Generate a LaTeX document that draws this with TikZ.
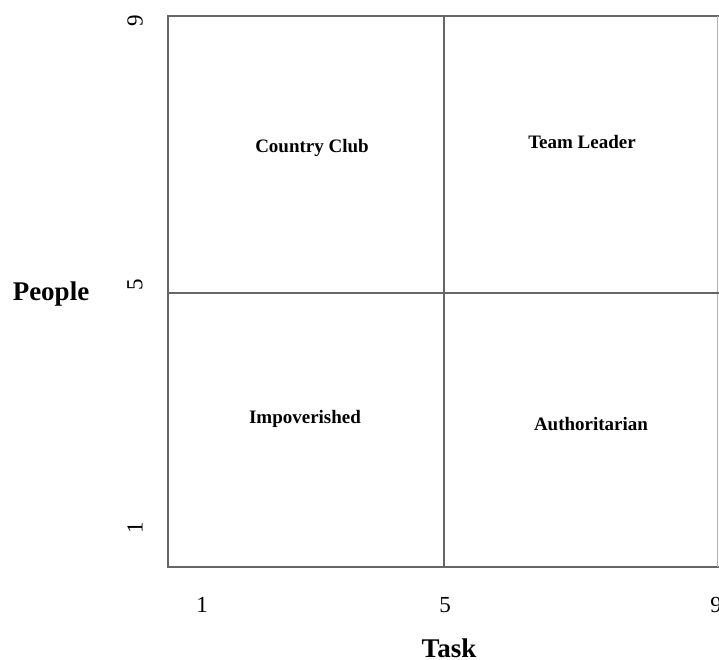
\documentclass[tikz,border=0pt]{standalone}
\usepackage{fontspec}
\setmainfont{Liberation Serif}
\begin{document}
\begin{tikzpicture}[x=1pt,y=-1pt,
  gridline/.style={draw=black!60, line width=2pt},
  quad/.style={font=\bfseries\fontsize{19}{22}\selectfont, inner sep=0pt},
  axis/.style={font=\bfseries\fontsize{27}{31}\selectfont, inner sep=0pt},
  tick/.style={font=\fontsize{23}{26}\selectfont, inner sep=0pt}]
\useasboundingbox (0,0) rectangle (719,659);
% grid
\coordinate (tl) at (168,16);
\coordinate (tr) at (719,16);
\coordinate (bl) at (168,567);
\coordinate (br) at (719,567);
\coordinate (tm) at (444,16);
\coordinate (bm) at (444,567);
\coordinate (lm) at (168,293);
\coordinate (rm) at (719,293);
\draw[gridline] (tr) -- (tl) -- (bl) -- (br);
\draw[draw=black!30, line width=1pt] (717.5,16) -- (717.5,567);
\draw[gridline] (tm) -- (bm);
\draw[gridline] (lm) -- (rm);
% quadrant labels
\node[quad] (cc) at (312,148) {Country Club};
\node[quad] (tlead) at (582,142) {Team Leader};
\node[quad] (imp) at (305,419) {Impoverished};
\node[quad] (auth) at (591,424) {Authoritarian};
% axis titles
\node[axis] (people) at (51,294) {People};
\node[axis, anchor=base] (task) at (449,657) {Task};
% ticks
\node[tick, rotate=90] (y9) at (135,21) {9};
\node[tick, rotate=90] (y5) at (135,285) {5};
\node[tick, rotate=90] (y1) at (135,528) {1};
\node[tick, anchor=base] (x1) at (202,612) {1};
\node[tick, anchor=base] (x5) at (445,612) {5};
\node[tick, anchor=base] (x9) at (716,612) {9};
\end{tikzpicture}
\end{document}
